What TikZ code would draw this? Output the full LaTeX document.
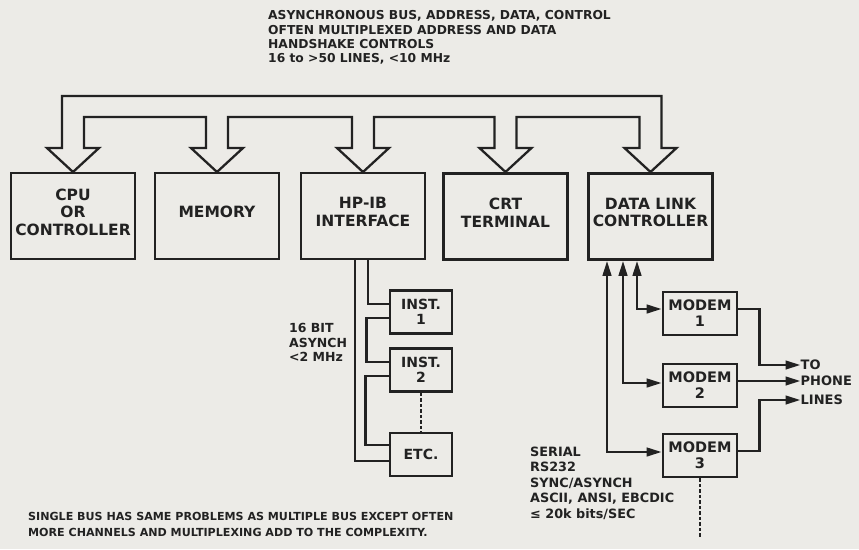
\documentclass[tikz,border=0pt]{standalone}
\usepackage{fontspec}
\setmainfont{DejaVu Sans}
\usetikzlibrary{arrows.meta,calc}
\definecolor{paper}{RGB}{236,235,231}
\definecolor{ink}{RGB}{34,34,34}
\tikzset{
  inkline/.style={draw=ink, line width=2.6pt},
  bigbox/.style={inkline, minimum width=124pt, minimum height=86pt, inner sep=0pt},
  boxtext/.style={align=center, font=\bfseries\fontsize{15.5}{17.5}\selectfont, yshift=4pt, inner sep=0pt, text=ink},
  smallbox/.style={inkline, minimum width=62pt, minimum height=43pt, inner sep=0pt, align=center, text=ink, font=\bfseries\fontsize{14}{15}\selectfont},
  modembox/.style={smallbox, minimum width=74pt, font=\bfseries\fontsize{14.5}{16}\selectfont},
  note/.style={align=left, inner sep=0pt, anchor=north west, text=ink},
  phonetext/.style={inner sep=0pt, anchor=west, text=ink, font=\bfseries\fontsize{13}{15}\selectfont},
  onearrow/.style={inkline, -{Triangle[length=15pt,width=8.5pt]}},
  twoarrow/.style={inkline, {Triangle[length=15pt,width=8.5pt]}-{Triangle[length=15pt,width=8.5pt]}},
  dashline/.style={inkline, line width=2.2pt, dash pattern=on 3.5pt off 2pt},
  bus/.style={inkline, line width=2.3pt, line join=miter},
}
\begin{document}
\begin{tikzpicture}[x=1pt,y=-1pt]
\fill[paper] (0,0) rectangle (859,549);
\useasboundingbox (0,0) rectangle (859,549);

% header
\node[note, font=\bfseries\fontsize{12.3}{14.2}\selectfont] (head) at (268,10.5)
  {ASYNCHRONOUS BUS, ADDRESS, DATA, CONTROL\\OFTEN MULTIPLEXED ADDRESS AND DATA\\HANDSHAKE CONTROLS\\16 to >50 LINES, <10 MHz};

% bus
\draw[bus] (62,96) -- (661.5,96) -- (661.5,148) -- (676.5,148) -- (650.5,172) -- (624.5,148) -- (639.5,148) -- (639.5,117)
  -- (516.5,117) -- (516.5,148) -- (531.5,148) -- (505.5,172) -- (479.5,148) -- (494.5,148) -- (494.5,117)
  -- (374,117) -- (374,148) -- (389,148) -- (363,172) -- (337,148) -- (352,148) -- (352,117)
  -- (228,117) -- (228,148) -- (243,148) -- (217,172) -- (191,148) -- (206,148) -- (206,117)
  -- (84,117) -- (84,148) -- (99,148) -- (73,172) -- (47,148) -- (62,148) -- cycle;

% main boxes
\node[bigbox, label={[boxtext]center:CPU\\OR\\CONTROLLER}] (cpu) at (73,216) {};
\node[bigbox, label={[boxtext]center:MEMORY}] (mem) at (217,216) {};
\node[bigbox, label={[boxtext]center:HP-IB\\INTERFACE}] (hp) at (363,216) {};
\node[bigbox, label={[boxtext]center:CRT\\TERMINAL}] (crt) at (505.5,216.5) {};
\node[bigbox, label={[boxtext]center:DATA LINK\\CONTROLLER}] (dl) at (650.5,216.5) {};

% instruments
\node[smallbox] (i1) at (421,312) {INST.\\1};
\node[smallbox] (i2) at (421,370) {INST.\\2};
\node[smallbox] (etc) at (421,454.5) {ETC.};

\draw[inkline] ($(hp.south)+(-8,0)$) |- ($(etc.west)+(0,6.5)$);
\draw[inkline] ($(hp.south)+(5,0)$) |- ($(i1.west)+(0,-8)$);
\draw[inkline] ($(i1.west)+(0,6)$) -- ++(-22,0) |- ($(i2.west)+(0,-8)$);
\draw[inkline] ($(i2.west)+(0,6)$) -- ++(-23,0) |- ($(etc.west)+(0,-9.5)$);
\draw[dashline] (i2.south) -- (etc.north);

\node[note, font=\bfseries\fontsize{12.5}{14.5}\selectfont] (hpnote) at (289,323.5) {16 BIT\\ASYNCH\\<2 MHz};

% modems
\node[modembox] (m1) at (700,313.5) {MODEM\\1};
\node[modembox] (m2) at (700,385.5) {MODEM\\2};
\node[modembox] (m3) at (700,455.5) {MODEM\\3};

\draw[twoarrow] ($(dl.south)+(-13.5,0)$) |- ($(m1.west)+(0,-4.5)$);
\draw[twoarrow] ($(dl.south)+(-27.5,0)$) |- ($(m2.west)+(0,-2.5)$);
\draw[twoarrow] ($(dl.south)+(-43.5,0)$) |- ($(m3.west)+(0,-3.5)$);

\node[phonetext] (to) at (800.5,365) {TO};
\node[phonetext] (phone) at (800.5,381) {PHONE};
\node[phonetext] (lines) at (800.5,400) {LINES};

\draw[onearrow] ($(m1.east)+(0,-4.5)$) -| ($(to.west)+(-41,0)$) -- (to.west);
\draw[onearrow] ($(m2.east)+(0,-4.5)$) -- (phone.west);
\draw[onearrow] ($(m3.east)+(0,-4.5)$) -| ($(lines.west)+(-41,0)$) -- (lines.west);

\coordinate (m3end) at (700,537);
\draw[dashline] (m3.south) -- (m3end);

\node[note, font=\bfseries\fontsize{12.8}{15.5}\selectfont] (serial) at (530,446.5)
  {SERIAL\\RS232\\SYNC/ASYNCH\\ASCII, ANSI, EBCDIC\\≤ 20k bits/SEC};

% footer
\node[note, font=\bfseries\fontsize{11.1}{16}\selectfont] (foot) at (28,512.5)
  {SINGLE BUS HAS SAME PROBLEMS AS MULTIPLE BUS EXCEPT OFTEN\\MORE CHANNELS AND MULTIPLEXING ADD TO THE COMPLEXITY.};
\end{tikzpicture}
\end{document}
